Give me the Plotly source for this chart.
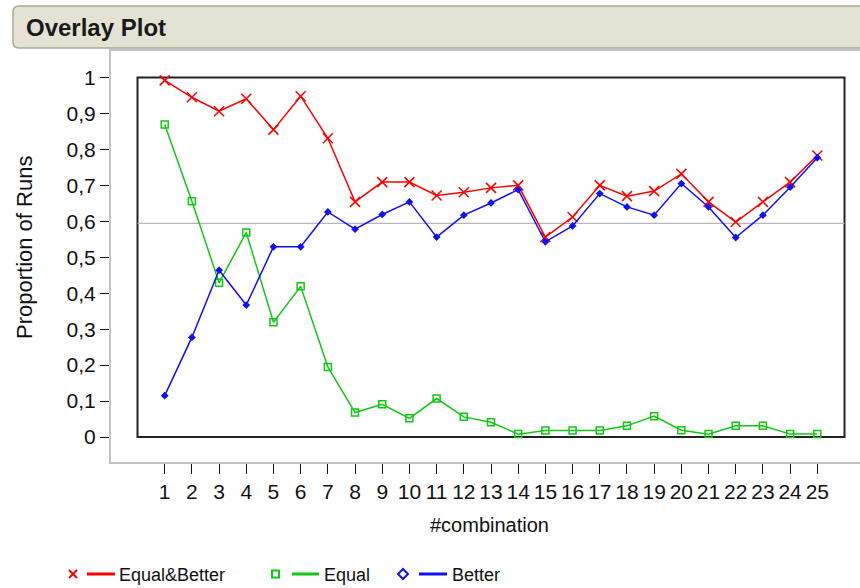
import plotly.graph_objects as go

# Veriler
combinations = list(range(1, 26))
equal_better = [0.992, 0.945, 0.906, 0.941, 0.855, 0.948, 0.831, 0.654, 0.709, 0.709,
                0.672, 0.681, 0.693, 0.700, 0.556, 0.612, 0.700, 0.670, 0.684, 0.732,
                0.654, 0.598, 0.654, 0.709, 0.783]
equal = [0.869, 0.656, 0.429, 0.569, 0.319, 0.419, 0.195, 0.068, 0.091, 0.052,
         0.107, 0.056, 0.041, 0.008, 0.018, 0.018, 0.018, 0.031, 0.058, 0.019,
         0.008, 0.031, 0.031, 0.008, 0.008]
better = [0.115, 0.277, 0.464, 0.367, 0.529, 0.529, 0.626, 0.578, 0.619, 0.654,
          0.556, 0.617, 0.651, 0.688, 0.543, 0.587, 0.677, 0.640, 0.617, 0.705,
          0.640, 0.555, 0.617, 0.695, 0.777]
ref_line = 0.594
y_ticks = [i / 10 for i in range(11)]

RED, GREEN, BLUE = '#FF0000', '#12C812', '#1010F0'
FONT = 'Arial, Liberation Sans, sans-serif'

# Sayfa geometrisi (piksel -> paper dönüşümü)
W, H = 860, 588
L, R, T, B = 111, 0, 51, 126
PW, PH = W - L - R, H - T - B


def px(x):
    return (x - L) / PW


def py(y):
    return (H - B - y) / PH


fig = go.Figure()

fig.add_trace(go.Scatter(
    x=combinations, y=equal_better, mode='lines+markers', name='Equal&Better',
    line=dict(color=RED, width=1.5),
    marker=dict(symbol='x-thin-open', size=10, color=RED, line=dict(color=RED, width=1.5)),
))
fig.add_trace(go.Scatter(
    x=combinations, y=equal, mode='lines+markers', name='Equal',
    line=dict(color=GREEN, width=1.5),
    marker=dict(symbol='square-open', size=7, color=GREEN, line=dict(color=GREEN, width=1.5)),
))
fig.add_trace(go.Scatter(
    x=combinations, y=better, mode='lines+markers', name='Better',
    line=dict(color=BLUE, width=1.5),
    marker=dict(symbol='diamond', size=6, color=BLUE),
))

shapes = []
# Siyah çerçeve ve referans çizgisi
shapes.append(dict(type='rect', xref='x', yref='y', x0=0, x1=26, y0=0, y1=1,
                   line=dict(color='#222222', width=2), layer='below'))
shapes.append(dict(type='line', xref='x', yref='y', x0=0, x1=26, y0=ref_line, y1=ref_line,
                   line=dict(color='#B8B8B8', width=1.2), layer='below'))

# Başlık çubuğu (yuvarlak köşeli)
x0, x1, y0, y1, r = 13, 870, 6, 48, 6
path = (f"M {px(x0 + r)},{py(y0)} L {px(x1)},{py(y0)} L {px(x1)},{py(y1)} "
        f"L {px(x0 + r)},{py(y1)} Q {px(x0)},{py(y1)} {px(x0)},{py(y1 - r)} "
        f"L {px(x0)},{py(y0 + r)} Q {px(x0)},{py(y0)} {px(x0 + r)},{py(y0)} Z")
shapes.append(dict(type='path', xref='paper', yref='paper', path=path,
                   fillcolor='#E4E3D3', line=dict(color='#ABA995', width=1.5)))

# Özel lejant
ly = 574
shapes += [
    dict(type='line', xref='paper', yref='paper', x0=px(69), x1=px(77), y0=py(ly - 4), y1=py(ly + 4),
         line=dict(color=RED, width=2)),
    dict(type='line', xref='paper', yref='paper', x0=px(69), x1=px(77), y0=py(ly + 4), y1=py(ly - 4),
         line=dict(color=RED, width=2)),
    dict(type='line', xref='paper', yref='paper', x0=px(87), x1=px(115), y0=py(ly), y1=py(ly),
         line=dict(color=RED, width=3)),
    dict(type='rect', xref='paper', yref='paper', x0=px(272), x1=px(279), y0=py(ly - 3.5), y1=py(ly + 3.5),
         line=dict(color=GREEN, width=2)),
    dict(type='line', xref='paper', yref='paper', x0=px(292), x1=px(319), y0=py(ly), y1=py(ly),
         line=dict(color=GREEN, width=3)),
    dict(type='path', xref='paper', yref='paper',
         path=(f"M {px(403)},{py(ly - 5)} L {px(408)},{py(ly)} L {px(403)},{py(ly + 5)} "
               f"L {px(398)},{py(ly)} Z"),
         fillcolor='white', line=dict(color=BLUE, width=2)),
    dict(type='line', xref='paper', yref='paper', x0=px(419), x1=px(447), y0=py(ly), y1=py(ly),
         line=dict(color=BLUE, width=3)),
]

annotations = [
    dict(text='<b>Overlay Plot</b>', xref='paper', yref='paper', x=px(24), y=py(27),
         xanchor='left', yanchor='middle', showarrow=False,
         font=dict(family=FONT, size=24, color='#1a1a1a')),
    dict(text='#combination', xref='paper', yref='paper', x=px(490), y=py(525),
         xanchor='center', yanchor='middle', showarrow=False,
         font=dict(family=FONT, size=20, color='#111111')),
    dict(text='Proportion of Runs', xref='paper', yref='paper', x=px(24), y=py(248),
         xanchor='center', yanchor='middle', showarrow=False, textangle=-90,
         font=dict(family=FONT, size=22, color='#111111')),
]
for x_txt, label in [(117, 'Equal&Better'), (322, 'Equal'), (450, 'Better')]:
    annotations.append(dict(text=label, xref='paper', yref='paper', x=px(x_txt), y=py(ly + 1),
                            xanchor='left', yanchor='middle', showarrow=False,
                            font=dict(family=FONT, size=18, color='#111111')))

fig.update_layout(
    width=W, height=H,
    margin=dict(l=L, r=R, t=T, b=B),
    paper_bgcolor='white', plot_bgcolor='white',
    separators=',.',
    showlegend=False,
    shapes=shapes,
    annotations=annotations,
    font=dict(family=FONT, size=21, color='#111111'),
    xaxis=dict(
        range=[(L - 137.5) / 27.19, 26 + (W - 844.5) / 27.19],
        tickvals=combinations, ticks='outside', ticklen=10, tickcolor='#111111',
        showgrid=False, zeroline=False,
        showline=True, linecolor='#C4C4C4', linewidth=2, mirror=True,
        tickfont=dict(family=FONT, size=21),
    ),
    yaxis=dict(
        range=[-25 / 359.5, 1 + 26.5 / 359.5],
        tickvals=y_ticks, ticks='outside', ticklen=9, tickcolor='#111111',
        showgrid=False, zeroline=False,
        showline=True, linecolor='#C4C4C4', linewidth=2, mirror=False,
        tickfont=dict(family=FONT, size=21),
    ),
)

# sayfanın varsayılan 8px kenar boşluğunu kaldır, araç çubuğunu gizle
fig.write_html("out.html", config={'displayModeBar': False},
               post_script="document.body.style.margin='0px';")
